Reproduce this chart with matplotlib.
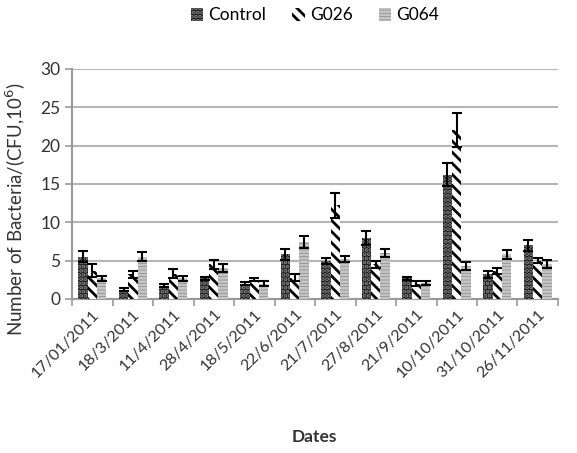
import matplotlib
matplotlib.use("Agg")
import matplotlib.pyplot as plt
import numpy as np

plt.rcParams['font.family'] = ['Lato', 'DejaVu Sans']
plt.rcParams['hatch.linewidth'] = 2.0

dates = ["17/01/2011", "18/3/2011", "11/4/2011", "28/4/2011", "18/5/2011",
         "22/6/2011", "21/7/2011", "27/8/2011", "21/9/2011", "10/10/2011",
         "31/10/2011", "26/11/2011"]

control = [5.5, 1.2, 1.7, 2.7, 2.0, 5.8, 5.0, 8.0, 2.7, 16.2, 3.2, 7.0]
control_err = [0.7, 0.2, 0.2, 0.2, 0.2, 0.7, 0.4, 0.9, 0.2, 1.5, 0.4, 0.7]

g026 = [3.7, 3.2, 3.3, 4.5, 2.5, 2.8, 12.2, 4.5, 2.0, 22.0, 3.7, 5.0]
g026_err = [0.8, 0.4, 0.6, 0.6, 0.2, 0.4, 1.6, 0.5, 0.3, 2.2, 0.4, 0.3]

g064 = [2.7, 5.5, 2.7, 4.0, 2.0, 7.4, 5.2, 6.0, 2.1, 4.3, 5.8, 4.6]
g064_err = [0.3, 0.6, 0.3, 0.5, 0.3, 0.8, 0.4, 0.5, 0.3, 0.5, 0.6, 0.5]

fig = plt.figure(figsize=(5.77, 4.53), dpi=100)
ax = fig.add_axes([0.125, 0.34, 0.842, 0.508])

x = np.arange(len(dates))
w = 0.23
err_kw = dict(ecolor='black', elinewidth=1.5, capsize=3.5, capthick=1.5)

ax.bar(x - w, control, w, yerr=control_err, color='#151515', edgecolor='#8a8a8a',
       hatch='....', linewidth=0, label='Control', error_kw=err_kw, zorder=3)
ax.bar(x, g026, w, yerr=g026_err, color='white', edgecolor='black',
       hatch='\\\\\\', linewidth=0, label='G026', error_kw=err_kw, zorder=3)
ax.bar(x + w, g064, w, yerr=g064_err, color='#7c7c7c', edgecolor='#c4c4c4',
       hatch='-----', linewidth=0, label='G064', error_kw=err_kw, zorder=3)

ax.set_xlim(-0.5, len(dates) - 0.5)
ax.set_ylim(0, 30)
ax.set_yticks(range(0, 31, 5))
ax.tick_params(axis='y', labelsize=12.5, color='#999999', length=5, width=1.2, labelcolor='#333333')

ax.set_xticks(x)
ax.set_xticklabels(dates, rotation=45, ha='right', rotation_mode='anchor',
                   fontsize=11.5, color='#333333')
ax.set_xticks(np.arange(-0.5, len(dates)), minor=True)
ax.tick_params(axis='x', which='major', length=0, pad=6)
ax.tick_params(axis='x', which='minor', length=5, width=1.2, color='#999999')

ax.grid(axis='y', color='#b5b5b5', linewidth=1.5, zorder=0)
ax.set_axisbelow(True)
for s in ['top', 'right']:
    ax.spines[s].set_visible(False)
for s in ['left', 'bottom']:
    ax.spines[s].set_color('#999999')
    ax.spines[s].set_linewidth(1.5)

ax.set_ylabel('Number of Bacteria/(CFU,10$^6$)', fontsize=13.5, color='#333333')
ax.yaxis.set_label_coords(-0.09, 0.39)
fig.text(0.545, 0.025, 'Dates', ha='center', fontsize=12.5, fontweight='bold', color='#333333')

ax.legend(loc='lower center', bbox_to_anchor=(0.5, 1.13), ncol=3, frameon=False,
          fontsize=12.5, handlelength=0.7, handleheight=0.8, columnspacing=1.5,
          handletextpad=0.3)

fig.savefig('out.png', dpi=100)
